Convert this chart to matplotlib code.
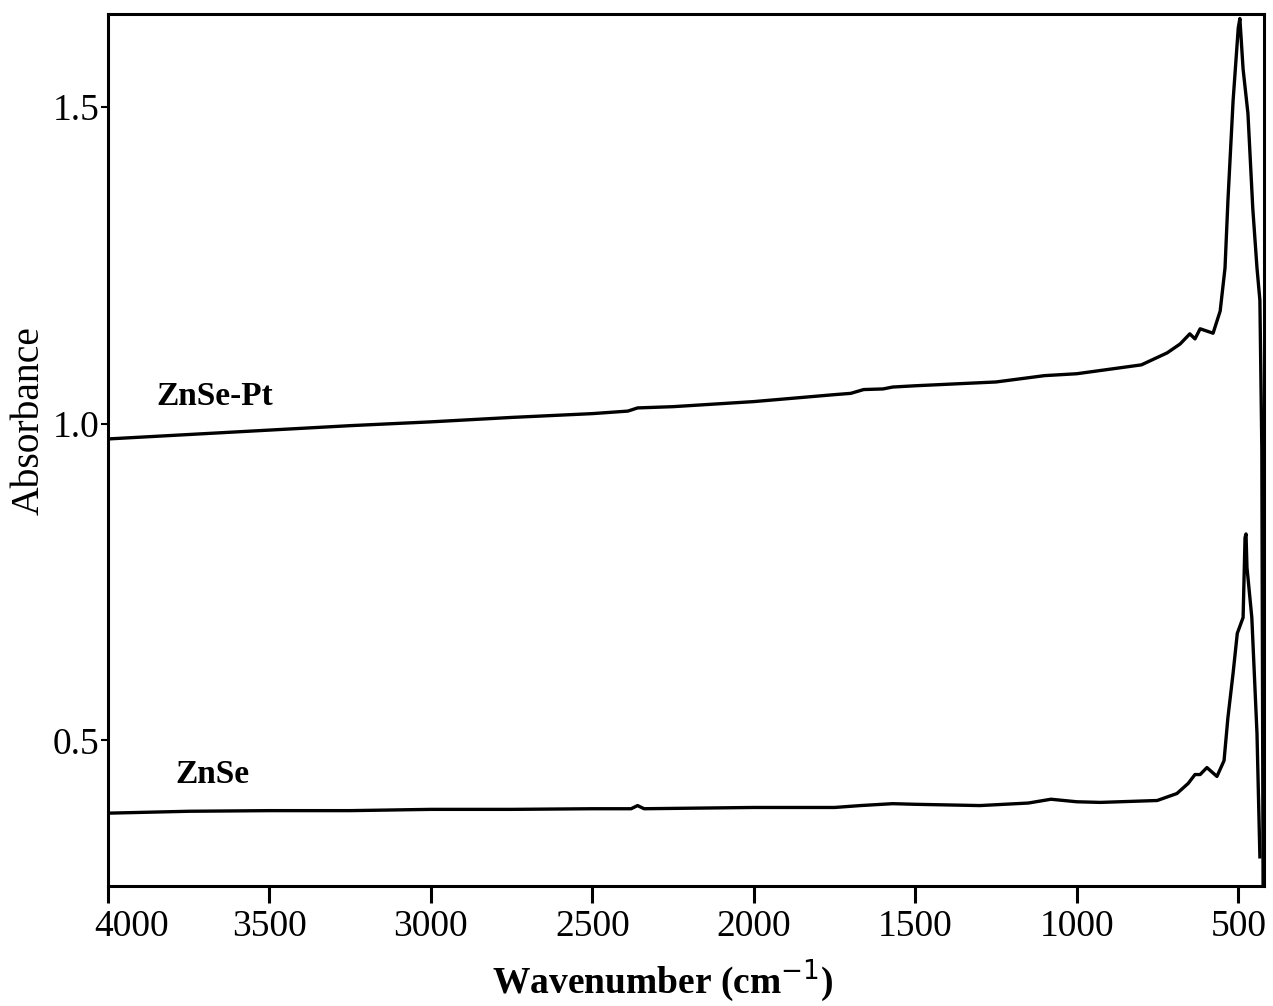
import matplotlib
matplotlib.use('Agg')
import matplotlib.pyplot as plt
from matplotlib.transforms import ScaledTranslation

# ZnSe-Pt spectrum (wavenumber, absorbance)
pt_wn = [4000, 3750, 3500, 3250, 3000, 2750, 2500, 2390, 2360, 2250, 2000, 1750,
         1700, 1660, 1600, 1570, 1500, 1250, 1100, 1000, 900, 800, 720, 680,
         650, 634, 618, 578, 556, 541, 532, 516, 500, 495, 485, 470, 455, 442,
         433, 427, 423]
pt_abs = [0.976, 0.983, 0.990, 0.997, 1.003, 1.010, 1.016, 1.020, 1.025, 1.027,
          1.035, 1.046, 1.048, 1.054, 1.055, 1.058, 1.060, 1.066, 1.076, 1.079,
          1.086, 1.093, 1.112, 1.126, 1.142, 1.134, 1.150, 1.143, 1.178, 1.246,
          1.352, 1.510, 1.625, 1.640, 1.560, 1.490, 1.340, 1.246, 1.195, 0.960,
          0.250]

# bare ZnSe spectrum
zn_wn = [4000, 3750, 3500, 3250, 3000, 2750, 2500, 2380, 2360, 2340, 2000, 1750,
         1670, 1570, 1500, 1300, 1150, 1080, 1000, 927, 751, 690, 655, 634, 618,
         597, 566, 544, 532, 516, 503, 485, 479, 476, 473, 458, 442, 433]
zn_abs = [0.385, 0.388, 0.389, 0.389, 0.391, 0.391, 0.392, 0.392, 0.397, 0.392,
          0.394, 0.394, 0.397, 0.400, 0.399, 0.397, 0.401, 0.407, 0.403, 0.402,
          0.405, 0.416, 0.432, 0.446, 0.446, 0.457, 0.443, 0.468, 0.536, 0.606,
          0.669, 0.694, 0.820, 0.826, 0.773, 0.694, 0.511, 0.316]

xticks = [4000, 3500, 3000, 2500, 2000, 1500, 1000, 500]
yticks = [0.5, 1.0, 1.5]

plt.rcParams['font.family'] = 'Liberation Serif'

fig = plt.figure(figsize=(12.73, 10.06), dpi=100)
ax = fig.add_axes([0.0848, 0.1193, 0.9082, 0.8667])

ax.plot(pt_wn, pt_abs, color='black', lw=2.4)
ax.plot(zn_wn, zn_abs, color='black', lw=2.4)

ax.text(3669, 1.043, 'ZnSe-Pt', fontsize=24, fontweight='bold', ha='center', va='center')
ax.text(3675, 0.446, 'ZnSe', fontsize=24, fontweight='bold', ha='center', va='center')

ax.set_xlim(4000, 420)
ax.set_ylim(0.27, 1.647)
ax.set_xticks(xticks)
ax.set_xticklabels([str(t) for t in xticks])
ax.set_yticks(yticks)
ax.set_yticklabels(['0.5', '1.0', '1.5'])

for s in ax.spines.values():
    s.set_linewidth(2.2)
ax.tick_params(axis='x', direction='out', length=12, width=2.2, labelsize=27, pad=5)
ax.tick_params(axis='y', direction='out', length=5, width=1.5, labelsize=27, pad=1)

# first x label sits to the right of its tick in the original
lab0 = ax.get_xticklabels()[0]
lab0.set_transform(lab0.get_transform() + ScaledTranslation(0.24, 0, fig.dpi_scale_trans))

ax.set_xlabel(r'Wavenumber (cm$^{-1}$)', fontsize=27, fontweight='bold')
ax.xaxis.set_label_coords(0.48, -0.082)
ax.set_ylabel('Absorbance', fontsize=28.5)
ax.yaxis.set_label_coords(-0.052, 0.534)

fig.savefig('out.png', dpi=100)
